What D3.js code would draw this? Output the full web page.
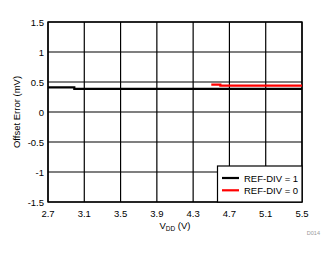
<!DOCTYPE html>
<html><head><meta charset="utf-8">
<script src="https://cdn.jsdelivr.net/npm/d3@7"></script>
<style>body{margin:0;background:#fff}svg{display:block;font-family:"Liberation Sans",Arial,sans-serif}</style>
</head><body><svg id="c" width="335" height="254"></svg>
<script>
const xTicks=[2.7,3.1,3.5,3.9,4.3,4.7,5.1,5.5];
const yTicks=[-1.5,-1,-0.5,0,0.5,1,1.5];
const seriesNames=["REF-DIV = 1","REF-DIV = 0"];
const seriesColors=["#000000","#ff0000"];
const refDiv1X=[2.7,2.99,2.99,5.5];
const refDiv1Y=[0.41,0.41,0.385,0.385];
const refDiv0X=[4.5,4.6,4.6,5.5];
const refDiv0Y=[0.455,0.455,0.44,0.44];

const svg=d3.select("#c");
const L=48,R=302,T=22,B=202;
const x=d3.scaleLinear().domain([2.7,5.5]).range([L,R]);
const y=d3.scaleLinear().domain([-1.5,1.5]).range([B,T]);

const g=svg.append("g");
g.selectAll(".vg").data(xTicks).join("line").attr("x1",d=>x(d)).attr("x2",d=>x(d)).attr("y1",T).attr("y2",B).attr("stroke","#000").attr("stroke-width",1.2);
g.selectAll(".hg").data(yTicks).join("line").attr("y1",d=>y(d)).attr("y2",d=>y(d)).attr("x1",L).attr("x2",R).attr("stroke","#000").attr("stroke-width",1.2);
g.append("rect").attr("x",L).attr("y",T).attr("width",R-L).attr("height",B-T).attr("fill","none").attr("stroke","#000").attr("stroke-width",1.4);

svg.selectAll(".yl").data(yTicks).join("text").attr("x",44).attr("y",d=>y(d)+3.5).attr("text-anchor","end").attr("font-size",9.5).attr("fill","#000").text(d=>d);
svg.selectAll(".xl").data(xTicks).join("text").attr("x",d=>x(d)).attr("y",217).attr("text-anchor","middle").attr("font-size",9.5).attr("fill","#000").text(d=>d.toFixed(1));

const line=d3.line().x(d=>x(d[0])).y(d=>y(d[1]));
const s1=refDiv1X.map((v,i)=>[v,refDiv1Y[i]]);
const s0=refDiv0X.map((v,i)=>[v,refDiv0Y[i]]);
svg.append("path").attr("d",line(s1)).attr("fill","none").attr("stroke",seriesColors[0]).attr("stroke-width",2.2);
svg.append("path").attr("d",line(s0)).attr("fill","none").attr("stroke",seriesColors[1]).attr("stroke-width",2.2);

// legend
svg.append("rect").attr("x",217.5).attr("y",166).attr("width",R-217.5).attr("height",B-166).attr("fill","#fff").attr("stroke","#000").attr("stroke-width",1.2);
seriesNames.forEach((n,i)=>{
  const yy=178+i*12.3;
  svg.append("line").attr("x1",222).attr("x2",239).attr("y1",yy).attr("y2",yy).attr("stroke",seriesColors[i]).attr("stroke-width",2.2);
  svg.append("text").attr("x",244).attr("y",yy+3.5).attr("font-size",9.5).attr("fill","#000").text(n);
});

// axis titles
const xt=svg.append("text").attr("x",175).attr("y",229).attr("text-anchor","middle").attr("font-size",9.5).attr("fill","#000");
xt.append("tspan").text("V");
xt.append("tspan").attr("font-size",6.5).attr("dy",1.5).text("DD");
xt.append("tspan").attr("dy",-1.5).text(" (V)");
svg.append("text").attr("transform","translate(20,112) rotate(-90)").attr("text-anchor","middle").attr("font-size",9.5).attr("fill","#000").text("Offset Error (mV)");
svg.append("text").attr("x",320).attr("y",235).attr("text-anchor","end").attr("font-size",5.5).attr("fill","#999").text("D014");
</script></body></html>
